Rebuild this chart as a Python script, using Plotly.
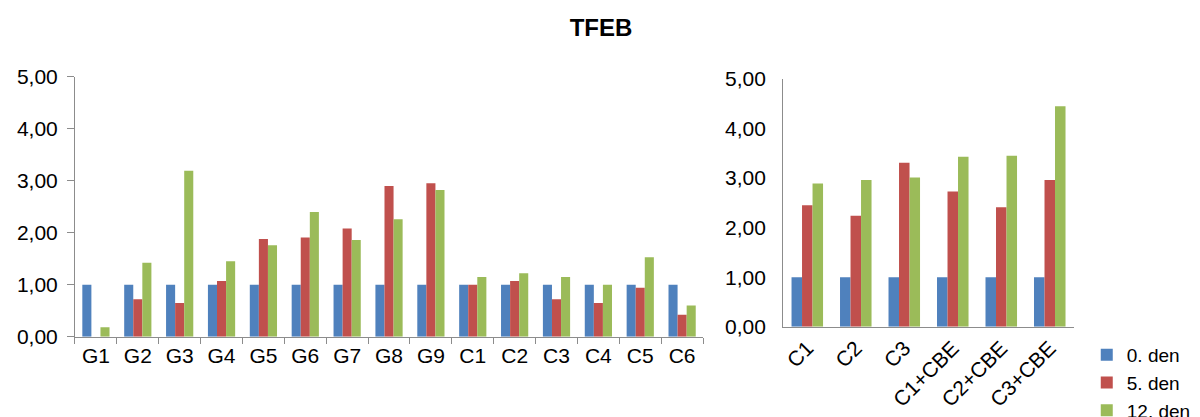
import plotly.graph_objects as go

title = "TFEB"
series_names = ["0. den", "5. den", "12. den"]
colors = ["#4F81BD", "#C0504D", "#9BBB59"]

left_categories = ["G1", "G2", "G3", "G4", "G5", "G6", "G7", "G8", "G9",
                   "C1", "C2", "C3", "C4", "C5", "C6"]
left_day0 = [1.00] * 15
left_day5 = [0.00, 0.72, 0.65, 1.07, 1.88, 1.91, 2.08, 2.90, 2.95,
             1.00, 1.07, 0.72, 0.65, 0.94, 0.42]
left_day12 = [0.18, 1.42, 3.19, 1.45, 1.76, 2.40, 1.86, 2.26, 2.82,
              1.15, 1.22, 1.15, 1.00, 1.53, 0.60]

right_categories = ["C1", "C2", "C3", "C1+CBE", "C2+CBE", "C3+CBE"]
right_day0 = [1.00] * 6
right_day5 = [2.45, 2.24, 3.31, 2.73, 2.41, 2.96]
right_day12 = [2.89, 2.96, 3.01, 3.43, 3.45, 4.45]

y_ticks = [0, 1, 2, 3, 4, 5]
y_ticklabels = ["0,00", "1,00", "2,00", "3,00", "4,00", "5,00"]

FONT = "Liberation Sans, Arial, sans-serif"
FS = 21

fig = go.Figure()
for name, col, vals in zip(series_names, colors, [left_day0, left_day5, left_day12]):
    fig.add_trace(go.Bar(x=left_categories, y=vals, name=name, marker_color=col,
                         marker_line_width=0, xaxis="x", yaxis="y", showlegend=True))
for name, col, vals in zip(series_names, colors, [right_day0, right_day5, right_day12]):
    fig.add_trace(go.Bar(x=right_categories, y=vals, name=name, marker_color=col,
                         marker_line_width=0, xaxis="x2", yaxis="y2", showlegend=False))

axis_color = "#8C8C8C"
common_y = dict(range=[0, 5], tickvals=y_ticks, ticktext=y_ticklabels, showgrid=False,
                zeroline=False, showline=True, linecolor=axis_color, linewidth=1,
                automargin=False, ticklabelstandoff=5,
                tickfont=dict(family=FONT, size=FS, color="black"))

fig.update_layout(
    width=1192, height=409,
    margin=dict(l=0, r=0, t=0, b=0, autoexpand=False),
    paper_bgcolor="white", plot_bgcolor="white",
    barmode="group", bargap=0.35, bargroupgap=0,
    font=dict(family=FONT, size=FS, color="black"),
    title=dict(text="<b>TFEB</b>", x=0.4975, xanchor="center", y=0.951, yanchor="middle",
               font=dict(family=FONT, size=24, color="black")),
    xaxis=dict(domain=[0.0562, 0.5831], anchor="y", showline=True, linecolor=axis_color,
               ticks="outside", tickson="boundaries", ticklen=6, tickcolor=axis_color,
               showgrid=False, automargin=False,
               tickfont=dict(family=FONT, size=FS, color="black")),
    yaxis=dict(domain=[0.1963, 0.8320], anchor="x", ticks="outside", ticklen=7,
               tickcolor=axis_color, **common_y),
    xaxis2=dict(domain=[0.6502, 0.8943], anchor="y2", showline=True, linecolor=axis_color,
                ticks="", showgrid=False, tickangle=-45, automargin=False,
                tickfont=dict(family=FONT, size=FS, color="black")),
    yaxis2=dict(domain=[0.2208, 0.8264], anchor="x2", ticks="outside", ticklen=7,
                tickcolor="rgba(0,0,0,0)", **common_y),
    legend=dict(x=0.905, y=0.198, xanchor="left", yanchor="top",
                font=dict(family=FONT, size=19, color="black"),
                itemwidth=30, tracegroupgap=0, bgcolor="rgba(0,0,0,0)"),
)

fig.write_html("out.html")
